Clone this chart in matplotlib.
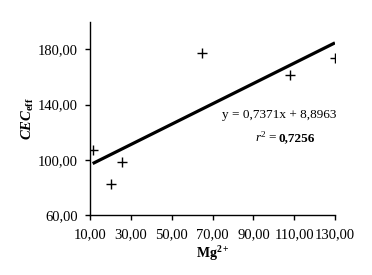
import matplotlib
matplotlib.use("Agg")
import matplotlib.pyplot as plt
from matplotlib.ticker import FuncFormatter
import numpy as np

mg = [11.3, 20.4, 25.8, 64.9, 107.7, 129.9]
cec = [106.8, 82.3, 98.4, 177.5, 161.2, 173.9]
slope = 0.7371
intercept = 88.963
x_ticks = [10, 30, 50, 70, 90, 110, 130]
y_ticks = [60, 100, 140, 180]
eq_text = "y = 0,7371x + 8,8963"

plt.rcParams['font.family'] = ['Liberation Serif', 'DejaVu Serif']
plt.rcParams['mathtext.fontset'] = 'custom'
plt.rcParams['mathtext.rm'] = 'Liberation Serif'
plt.rcParams['mathtext.it'] = 'Liberation Serif:italic'
plt.rcParams['mathtext.bf'] = 'Liberation Serif:bold:italic'
plt.rcParams['mathtext.sf'] = 'Liberation Serif:bold'

fig = plt.figure(figsize=(3.72, 2.75), dpi=100)
ax = fig.add_axes([0.242, 0.218, 0.659, 0.703])

xl = np.array([min(mg), max(mg)])
ax.plot(xl, slope * xl + intercept, color='black', lw=2.3, solid_capstyle='butt')
ax.plot(mg, cec, linestyle='none', marker='+', color='black', ms=7, mew=1.0)

ax.set_xlim(10, 130)
ax.set_ylim(60, 200)
ax.set_xticks(x_ticks)
ax.set_yticks(y_ticks)
fmt = FuncFormatter(lambda v, p: f"{v:.2f}".replace('.', ','))
ax.xaxis.set_major_formatter(fmt)
ax.yaxis.set_major_formatter(fmt)
for s in ['top', 'right']:
    ax.spines[s].set_visible(False)
for s in ['left', 'bottom']:
    ax.spines[s].set_linewidth(1.0)
ax.tick_params(direction='out', length=3.5, width=1.0, labelsize=10.5)
ax.tick_params(axis='y', pad=5.5)
ax.tick_params(axis='x', pad=6)

ax.set_xlabel(r"$\mathsf{Mg}^{\mathsf{2+}}$", fontsize=10, labelpad=2)
ax.set_ylabel(r"$\mathbf{CEC}_{\mathsf{eff}}$", fontsize=10.5, labelpad=1)

ax.text(0.77, 0.52, eq_text, transform=ax.transAxes, ha='center', va='center', fontsize=9.5)
ax.text(0.77, 0.40, r"$\mathit{r}^{2}$ = ", transform=ax.transAxes, ha='right', va='center', fontsize=9.5)
ax.text(0.77, 0.40, "0,7256", transform=ax.transAxes, ha='left', va='center', fontsize=9.5, fontweight='bold')

fig.savefig("out.png", dpi=100)
